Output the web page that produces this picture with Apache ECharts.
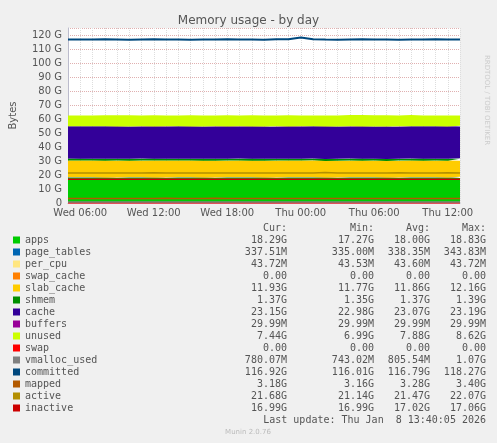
<!DOCTYPE html>
<html>
<head>
<meta charset="utf-8">
<script src="https://cdn.jsdelivr.net/npm/echarts@6/dist/echarts.min.js"></script>
<style>html,body{margin:0;padding:0;background:#f0f0f0}#c{width:497px;height:443px}</style>
</head>
<body>
<div id="c"></div>
<script>
// hours since Wed 00:00
var hours = [5,6,7,8,9,10,11,12,13,14,15,16,17,18,19,20,21,22,23,24,25,26,27,28,29,30,31,32,33,34,35,36,37];

// stacked areas (GB)
var apps =       [18.1,18.0,18.1,17.9,18.0,18.0,18.1,17.9,18.0,18.1,18.0,17.9,18.0,18.0,18.1,18.0,17.9,18.0,18.1,18.0,18.0,17.9,18.0,18.1,18.0,18.0,17.9,18.0,18.1,18.0,18.0,17.9,18.3];
var pageTables = [0.34,0.34,0.34,0.34,0.34,0.34,0.34,0.34,0.34,0.34,0.34,0.34,0.34,0.34,0.34,0.34,0.34,0.34,0.34,0.34,0.34,0.34,0.34,0.34,0.34,0.34,0.34,0.34,0.34,0.34,0.34,0.34,0.34];
var perCpu =     [0.04,0.04,0.04,0.04,0.04,0.04,0.04,0.04,0.04,0.04,0.04,0.04,0.04,0.04,0.04,0.04,0.04,0.04,0.04,0.04,0.04,0.04,0.04,0.04,0.04,0.04,0.04,0.04,0.04,0.04,0.04,0.04,0.04];
var swapCache =  [0,0,0,0,0,0,0,0,0,0,0,0,0,0,0,0,0,0,0,0,0,0,0,0,0,0,0,0,0,0,0,0,0];
var slabCache =  [11.9,11.9,11.8,11.9,11.9,11.8,11.9,12.0,11.9,11.8,11.9,11.9,11.8,11.9,11.9,11.8,11.9,11.9,11.8,11.9,12.1,11.8,11.8,11.9,11.8,11.9,11.8,11.9,11.9,11.8,11.9,11.9,11.9];
var shmem =      [1.37,1.37,1.37,1.37,1.37,1.37,1.37,1.37,1.37,1.37,1.37,1.37,1.37,1.37,1.37,1.37,1.37,1.37,1.37,1.37,1.37,1.37,1.37,1.37,1.37,1.37,1.37,1.37,1.37,1.37,1.37,1.37,1.37];
var cache =      [23.0,23.1,23.1,23.2,23.0,23.1,23.1,23.0,23.1,23.1,23.0,23.1,23.2,23.0,23.1,23.1,23.0,23.1,23.0,23.1,23.0,23.2,23.1,23.0,23.1,23.0,23.1,23.1,23.0,23.2,23.1,23.1,23.15];
var buffers =    [0.03,0.03,0.03,0.03,0.03,0.03,0.03,0.03,0.03,0.03,0.03,0.03,0.03,0.03,0.03,0.03,0.03,0.03,0.03,0.03,0.03,0.03,0.03,0.03,0.03,0.03,0.03,0.03,0.03,0.03,0.03,0.03,0.03];
var unused =     [7.7,7.8,7.9,7.9,8.0,7.9,7.8,7.9,7.8,7.9,7.9,7.8,7.9,7.9,7.8,7.9,8.0,7.9,7.9,7.8,7.7,7.9,8.2,8.0,8.0,8.0,7.9,8.0,7.8,7.7,7.8,7.8,7.4];
// lines (GB)
var swap =       [0,0,0,0,0,0,0,0,0,0,0,0,0,0,0,0,0,0,0,0,0,0,0,0,0,0,0,0,0,0,0,0,0];
var vmalloc =    [0.8,0.8,0.8,0.8,0.8,0.8,0.8,0.8,0.8,0.8,0.8,0.8,0.8,0.8,0.8,0.8,0.8,0.8,0.8,0.8,0.8,0.8,0.8,0.8,0.8,0.8,0.8,0.8,0.8,0.8,0.8,0.8,0.78];
var committed =  [116.8,116.7,116.9,116.8,116.6,116.8,116.9,116.7,116.8,116.6,116.8,116.7,116.9,116.8,116.7,116.6,116.9,117.0,118.2,116.9,116.7,116.6,116.8,116.9,116.7,116.8,116.6,116.8,116.7,116.9,116.8,116.7,116.9];
var mapped =     [3.3,3.3,3.3,3.2,3.2,3.2,3.3,3.4,3.3,3.2,3.2,3.4,3.3,3.3,3.2,3.2,3.3,3.3,3.2,3.3,3.3,3.2,3.3,3.3,3.3,3.2,3.2,3.3,3.3,3.2,3.3,3.3,3.18];
var active =     [21.5,21.4,21.5,21.5,21.4,21.5,21.6,21.5,21.4,21.5,21.5,21.4,21.5,21.5,21.4,21.5,21.5,21.4,21.5,21.5,21.8,21.4,21.5,21.4,21.5,21.5,21.6,21.5,21.4,21.5,21.6,21.5,21.7];
var inactive =   [17.0,17.0,17.0,17.0,17.0,17.0,17.0,17.0,17.0,17.0,17.0,17.0,17.0,17.0,17.0,17.0,17.0,17.0,17.0,17.0,17.0,17.0,17.0,17.0,17.0,17.0,17.0,17.0,17.0,17.0,17.0,17.0,16.99];

var tickHours = [6,12,18,24,30,36];
var dayNames = ['Wed','Thu'];

var legendRows = [
  ['apps','#00cc00','18.29G','17.27G','18.00G','18.83G'],
  ['page_tables','#0066b3','337.51M','335.00M','338.35M','343.83M'],
  ['per_cpu','#ffe680','43.72M','43.53M','43.60M','43.72M'],
  ['swap_cache','#ff8000','0.00','0.00','0.00','0.00'],
  ['slab_cache','#ffcc00','11.93G','11.77G','11.86G','12.16G'],
  ['shmem','#008f00','1.37G','1.35G','1.37G','1.39G'],
  ['cache','#330099','23.15G','22.98G','23.07G','23.19G'],
  ['buffers','#990099','29.99M','29.99M','29.99M','29.99M'],
  ['unused','#ccff00','7.44G','6.99G','7.88G','8.62G'],
  ['swap','#ff0000','0.00','0.00','0.00','0.00'],
  ['vmalloc_used','#808080','780.07M','743.02M','805.54M','1.07G'],
  ['committed','#00487d','116.92G','116.01G','116.79G','118.27G'],
  ['mapped','#b35a00','3.18G','3.16G','3.28G','3.40G'],
  ['active','#b38f00','21.68G','21.14G','21.47G','22.07G'],
  ['inactive','#cc0000','16.99G','16.99G','17.02G','17.06G']
];

var stacked = [apps, pageTables, perCpu, swapCache, slabCache, shmem, cache, buffers, unused];
var lines = [swap, vmalloc, committed, mapped, active, inactive];
var series = [];
stacked.forEach(function (d, i) {
  series.push({
    name: legendRows[i][0], type: 'line', stack: 'mem', data: d,
    symbol: 'none', step: 'end', lineStyle: { width: 0 },
    areaStyle: { color: legendRows[i][1], opacity: 1 }
  });
});
lines.forEach(function (d, i) {
  var row = legendRows[9 + i];
  series.push({
    name: row[0], type: 'line', data: d, symbol: 'none', step: 'end',
    lineStyle: { color: row[1], width: row[0] === 'committed' ? 2 : 1.5 }, z: 3
  });
});

var mono = 'DejaVu Sans Mono';
var graphics = [];
var cols = [287, 374, 430, 486];
['Cur:', 'Min:', 'Avg:', 'Max:'].forEach(function (t, j) {
  graphics.push({ type: 'text', x: cols[j], y: 228, style: { text: t, font: '10px ' + mono, fill: '#555', textAlign: 'right', textVerticalAlign: 'middle' } });
});
legendRows.forEach(function (r, i) {
  var y = 240 + i * 12;
  graphics.push({ type: 'rect', shape: { x: 13, y: y - 3.5, width: 7, height: 7 }, style: { fill: r[1] } });
  graphics.push({ type: 'text', x: 25, y: y, style: { text: r[0], font: '10px ' + mono, fill: '#555', textVerticalAlign: 'middle' } });
  for (var j = 0; j < 4; j++) {
    graphics.push({ type: 'text', x: cols[j], y: y, style: { text: r[2 + j], font: '10px ' + mono, fill: '#555', textAlign: 'right', textVerticalAlign: 'middle' } });
  }
});
graphics.push({ type: 'text', x: 486, y: 420, style: { text: 'Last update: Thu Jan  8 13:40:05 2026', font: '10px ' + mono, fill: '#555', textAlign: 'right', textVerticalAlign: 'middle' } });
graphics.push({ type: 'text', x: 248, y: 432, style: { text: 'Munin 2.0.76', font: '7px DejaVu Sans', fill: '#bbb', textAlign: 'center', textVerticalAlign: 'middle' } });
graphics.push({ type: 'text', x: 487, y: 100, rotation: -Math.PI / 2, style: { text: 'RRDTOOL / TOBI OETIKER', font: '7px DejaVu Sans', fill: '#ccc', textAlign: 'center', textVerticalAlign: 'middle' } });

var chart = echarts.init(document.getElementById('c'));
chart.setOption({
  backgroundColor: '#f0f0f0',
  animation: false,
  title: { text: 'Memory usage - by day', left: 'center', top: 10, textStyle: { fontFamily: 'DejaVu Sans', fontSize: 12, fontWeight: 'normal', color: '#555' } },
  grid: { left: 66, right: 37, top: 28, bottom: 240, show: true, backgroundColor: '#fff', borderWidth: 0 },
  xAxis: {
    type: 'category', data: hours, boundaryGap: false,
    axisLine: { lineStyle: { color: '#bbc' } },
    axisTick: { show: false },
    axisLabel: {
      fontFamily: 'DejaVu Sans', fontSize: 10, color: '#555', margin: 5,
      interval: function (i, v) { return tickHours.indexOf(+v) >= 0; },
      formatter: function (v) {
        v = +v;
        var d = dayNames[Math.floor(v / 24)], h = v % 24;
        return d + ' ' + (h < 10 ? '0' : '') + h + ':00';
      }
    },
    splitLine: { show: true, interval: 0, lineStyle: { color: '#ddd', type: 'dotted' } }
  },
  yAxis: {
    type: 'value', min: 0, max: 125, interval: 10,
    name: 'Bytes', nameLocation: 'middle', nameGap: 50, nameTextStyle: { fontFamily: 'DejaVu Sans', fontSize: 10, color: '#555' },
    axisLine: { show: true, lineStyle: { color: '#bbc' } },
    axisTick: { show: false },
    axisLabel: { fontFamily: 'DejaVu Sans', fontSize: 10, color: '#555', margin: 6, showMaxLabel: false, formatter: function (v) { return v === 0 ? '0' : v + ' G'; } },
    splitLine: { show: true, lineStyle: { color: '#e0b0b0', type: 'dotted' } }
  },
  series: series,
  graphic: graphics
});
</script>
</body>
</html>
